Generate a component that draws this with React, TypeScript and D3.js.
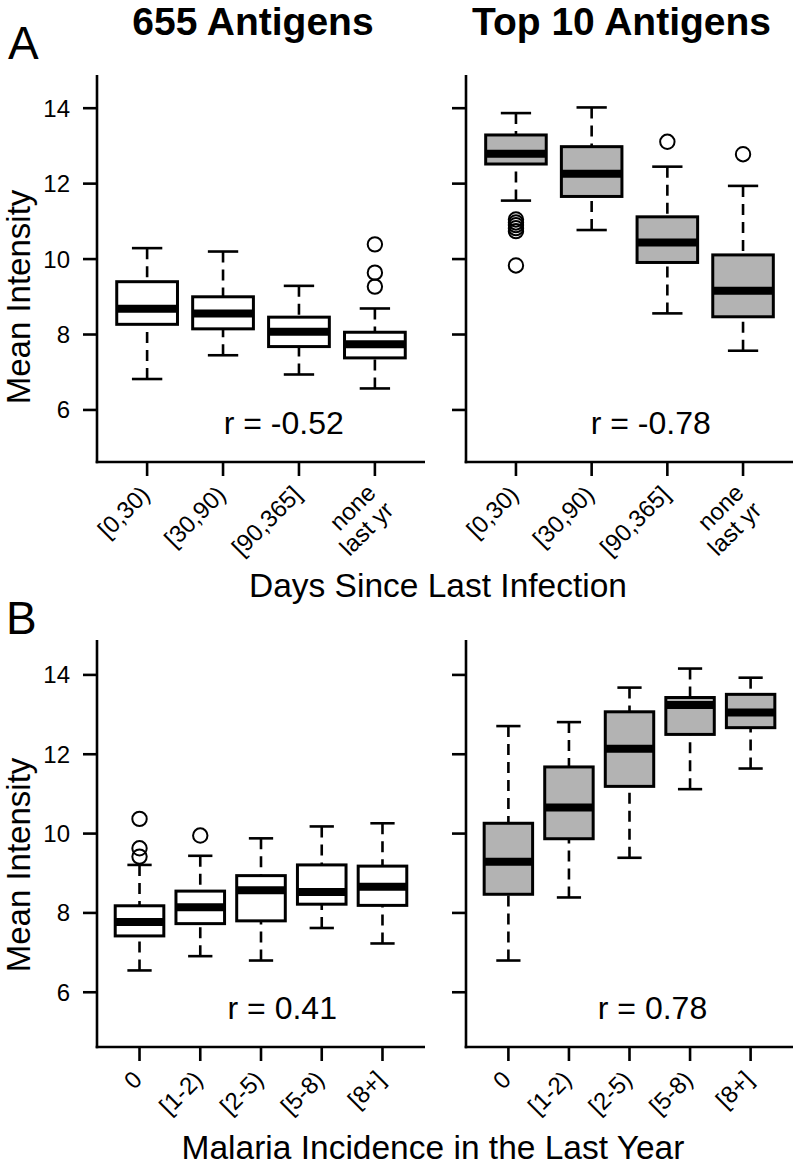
import React from "react";
import * as d3 from "d3";

// ---------- data ----------
const daysCategories = ["[0,30)", "[30,90)", "[90,365]", "none\nlast yr"];
const incidenceCategories = ["0", "[1-2)", "[2-5)", "[5-8)", "[8+]"];

// each row: [lower whisker, Q1, median, Q3, upper whisker]
const days655Stats = [
  [6.82, 8.27, 8.68, 9.40, 10.29],
  [7.45, 8.15, 8.56, 9.00, 10.20],
  [6.94, 7.68, 8.07, 8.46, 9.29],
  [6.57, 7.38, 7.74, 8.06, 8.69],
];
const days655Outliers = [[], [], [], [10.39, 9.64, 9.27]];

const daysTop10Stats = [
  [11.55, 12.52, 12.79, 13.29, 13.87],
  [10.77, 11.66, 12.26, 12.98, 14.02],
  [8.56, 9.91, 10.44, 11.12, 12.45],
  [7.57, 8.47, 9.16, 10.11, 11.94],
];
const daysTop10Outliers = [[11.05, 10.97, 10.9, 10.82, 10.74, 9.83], [], [13.11], [12.78]];

const inc655Stats = [
  [6.55, 7.42, 7.77, 8.18, 9.21],
  [6.91, 7.73, 8.14, 8.55, 9.44],
  [6.80, 7.80, 8.57, 8.94, 9.88],
  [7.62, 8.22, 8.53, 9.21, 10.18],
  [7.23, 8.19, 8.66, 9.18, 10.26],
];
const inc655Outliers = [[10.37, 9.63, 9.42], [9.95], [], [], []];

const incTop10Stats = [
  [6.80, 8.47, 9.29, 10.26, 12.71],
  [8.39, 9.87, 10.66, 11.68, 12.81],
  [9.39, 11.19, 12.14, 13.07, 13.68],
  [11.12, 12.50, 13.24, 13.43, 14.16],
  [11.64, 12.67, 13.05, 13.51, 13.93],
];
const incTop10Outliers = [[], [], [], [], []];

const rValues = ["r = -0.52", "r = -0.78", "r = 0.41", "r = 0.78"];
const yDomain = [4.62, 14.88];

// ---------- styling ----------
const FONT = '"Liberation Sans", Arial, Helvetica, sans-serif';
const W = 797;
const H = 1166;
const TICK_FS = 24;

type PanelProps = {
  cats: string[];
  stats: number[][];
  outliers: number[][];
  x0: number;
  x1: number;
  yTop: number;
  yBottom: number;
  fill: string;
  showYLabels: boolean;
  rText: string;
  rX: number;
  rY: number;
};

function Panel(p: PanelProps) {
  const n = p.cats.length;
  const ext = 0.04 * n;
  const x = d3.scaleLinear().domain([0.5 - ext, n + 0.5 + ext]).range([p.x0, p.x1]);
  const y = d3.scaleLinear().domain(yDomain).range([p.yBottom, p.yTop]);
  const unit = x(2) - x(1);
  const bw = 0.8 * unit;
  const cw = bw / 2;
  const yTicks = y.ticks(5);
  const lw = 2.6;

  return (
    <g>
      {p.stats.map((s, i) => {
        const cx = x(i + 1);
        const [lo, q1, med, q3, hi] = s;
        return (
          <g key={i}>
            <line x1={cx} x2={cx} y1={y(lo)} y2={y(q1)} stroke="#000" strokeWidth={lw} strokeDasharray="11,7" />
            <line x1={cx} x2={cx} y1={y(hi)} y2={y(q3)} stroke="#000" strokeWidth={lw} strokeDasharray="11,7" />
            <line x1={cx - cw / 2} x2={cx + cw / 2} y1={y(lo)} y2={y(lo)} stroke="#000" strokeWidth={lw} />
            <line x1={cx - cw / 2} x2={cx + cw / 2} y1={y(hi)} y2={y(hi)} stroke="#000" strokeWidth={lw} />
            <rect x={cx - bw / 2} y={y(q3)} width={bw} height={y(q1) - y(q3)} fill={p.fill} stroke="#000" strokeWidth={lw + 0.4} />
            <line x1={cx - bw / 2} x2={cx + bw / 2} y1={y(med)} y2={y(med)} stroke="#000" strokeWidth={8} />
            {p.outliers[i].map((o, j) => (
              <circle key={j} cx={cx} cy={y(o)} r={7.2} fill="none" stroke="#000" strokeWidth={2} />
            ))}
          </g>
        );
      })}
      <line x1={p.x0} x2={p.x0} y1={p.yTop} y2={p.yBottom + lw / 2} stroke="#000" strokeWidth={lw} />
      <line x1={p.x0 - lw / 2} x2={p.x1} y1={p.yBottom} y2={p.yBottom} stroke="#000" strokeWidth={lw} />
      {yTicks.map((t) => (
        <g key={t}>
          <line x1={p.x0 - 14} x2={p.x0} y1={y(t)} y2={y(t)} stroke="#000" strokeWidth={lw} />
          {p.showYLabels && (
            <text x={p.x0 - 27} y={y(t)} textAnchor="end" dominantBaseline="central" fontSize={TICK_FS} fontFamily={FONT}>
              {t}
            </text>
          )}
        </g>
      ))}
      {p.cats.map((c, i) => {
        const cx = x(i + 1);
        const lines = c.split("\n");
        const shift = lines.length > 1 ? 10 : 0;
        return (
          <g key={c}>
            <line x1={cx} x2={cx} y1={p.yBottom} y2={p.yBottom + 14} stroke="#000" strokeWidth={lw} />
            <g transform={`translate(${cx - 2},${p.yBottom + 28}) rotate(-45)`}>
              {lines.map((l, k) => (
                <text
                  key={k}
                  x={0}
                  y={(k - (lines.length - 1) / 2) * 25 + shift}
                  textAnchor="end"
                  dominantBaseline="central"
                  fontSize={TICK_FS}
                  fontFamily={FONT}
                >
                  {l}
                </text>
              ))}
            </g>
          </g>
        );
      })}
      <text x={x(p.rX)} y={y(p.rY)} textAnchor="middle" dominantBaseline="central" fontSize={32} fontFamily={FONT}>
        {p.rText}
      </text>
    </g>
  );
}

export default function App() {
  const L = { x0: 97, x1: 425 };
  const R = { x0: 466, x1: 793 };
  const A = { yTop: 75, yBottom: 462 };
  const B = { yTop: 640, yBottom: 1047 };
  const white = "#ffffff";
  const gray = "#b3b3b3";
  return (
    <svg
      width={W}
      height={H}
      viewBox={`0 0 ${W} ${H}`}
      style={{ position: "absolute", left: 0, top: 0, display: "block", background: "#fff" }}
    >
      <rect x={0} y={0} width={W} height={H} fill="#fff" />
      <text x={(L.x0 + L.x1) / 2 - 8} y={35} textAnchor="middle" fontSize={39} fontWeight="bold" fontFamily={FONT}>
        655 Antigens
      </text>
      <text x={(R.x0 + R.x1) / 2 - 8} y={35} textAnchor="middle" fontSize={39} fontWeight="bold" fontFamily={FONT}>
        Top 10 Antigens
      </text>
      <text x={8} y={59} fontSize={46} fontFamily={FONT}>A</text>
      <text x={6} y={634} fontSize={46} fontFamily={FONT}>B</text>

      <Panel cats={daysCategories} stats={days655Stats} outliers={days655Outliers} {...L} {...A}
        fill={white} showYLabels rText={rValues[0]} rX={2.8} rY={5.66} />
      <Panel cats={daysCategories} stats={daysTop10Stats} outliers={daysTop10Outliers} {...R} {...A}
        fill={gray} showYLabels={false} rText={rValues[1]} rX={2.78} rY={5.66} />
      <Panel cats={incidenceCategories} stats={inc655Stats} outliers={inc655Outliers} {...L} {...B}
        fill={white} showYLabels rText={rValues[2]} rX={3.35} rY={5.6} />
      <Panel cats={incidenceCategories} stats={incTop10Stats} outliers={incTop10Outliers} {...R} {...B}
        fill={gray} showYLabels={false} rText={rValues[3]} rX={3.38} rY={5.6} />

      <text transform={`translate(30,297) rotate(-90)`} textAnchor="middle" fontSize={33} fontFamily={FONT}>
        Mean Intensity
      </text>
      <text transform={`translate(30,865) rotate(-90)`} textAnchor="middle" fontSize={33} fontFamily={FONT}>
        Mean Intensity
      </text>
      <text x={438} y={597} textAnchor="middle" fontSize={33.5} fontFamily={FONT}>
        Days Since Last Infection
      </text>
      <text x={433} y={1159} textAnchor="middle" fontSize={33.5} fontFamily={FONT}>
        Malaria Incidence in the Last Year
      </text>
    </svg>
  );
}
